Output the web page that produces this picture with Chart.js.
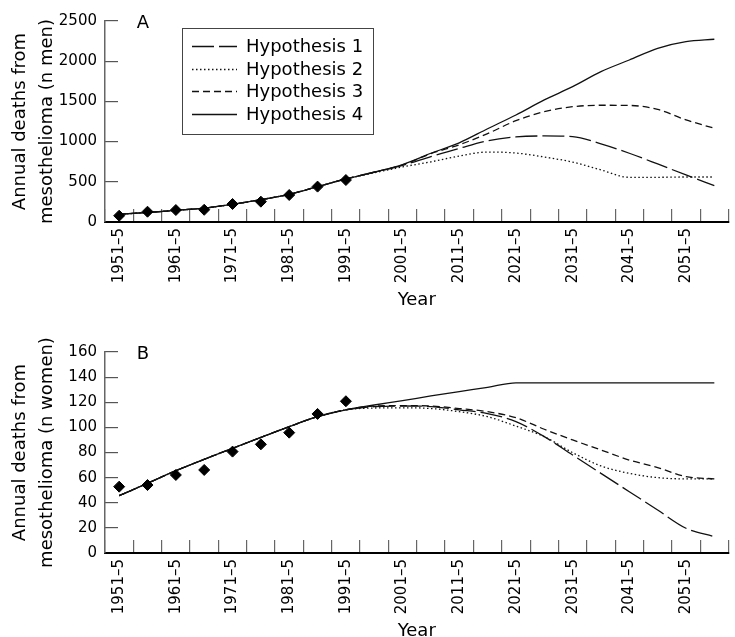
<!DOCTYPE html>
<html>
<head>
<meta charset="utf-8">
<script src="https://cdn.jsdelivr.net/npm/chart.js@4"></script>
<style>
  html, body { margin: 0; padding: 0; background: #fff; overflow: hidden; }
  #wrap { position: relative; width: 735px; height: 637px; overflow: hidden; }
  canvas { position: absolute; left: 0; }
  #chartA { top: 0; }
  #chartB { top: 331px; }
</style>
</head>
<body>
<div id="wrap">
  <canvas id="chartA" width="735" height="331"></canvas>
  <canvas id="chartB" width="735" height="331"></canvas>
</div>
<script>
// five-year periods
const periods = [
  "1951–5", "1956–60", "1961–5", "1966–70", "1971–5", "1976–80",
  "1981–5", "1986–90", "1991–5", "1996–2000", "2001–5", "2006–10",
  "2011–5", "2016–20", "2021–5", "2026–30", "2031–5", "2036–40",
  "2041–5", "2046–50", "2051–5", "2056–60"
];

// men (panel A)
const menObserved = [78, 128, 149, 152, 224, 253, 336, 440, 522];
const menH1 = [96, 118, 145, 172, 220, 278, 345, 440, 535, 618, 705, 813, 916, 1010, 1058, 1070, 1062, 972, 855, 722, 585, 452];
const menH2 = [96, 118, 145, 172, 220, 278, 345, 440, 535, 612, 685, 748, 820, 870, 858, 808, 745, 648, 556, 556, 560, 560];
const menH3 = [96, 118, 145, 172, 220, 278, 345, 440, 535, 620, 710, 850, 960, 1100, 1260, 1372, 1434, 1452, 1450, 1400, 1270, 1166];
const menH4 = [96, 118, 145, 172, 220, 278, 345, 440, 535, 622, 715, 855, 985, 1160, 1331, 1518, 1683, 1870, 2015, 2160, 2243, 2273];
const menTicks = [0, 500, 1000, 1500, 2000, 2500];

// women (panel B)
const womenObserved = [52.8, 54.1, 62.1, 66.1, 80.7, 86.5, 95.8, 110.7, 120.8];
const womenH1 = [45.6, 55.5, 65.5, 74.6, 83.3, 92, 100.6, 108.5, 114, 116.5, 117, 116.5, 114, 111, 104.6, 92.6, 78, 63.4, 48.8, 34.2, 19.7, 13];
const womenH2 = [45.6, 55.5, 65.5, 74.6, 83.3, 92, 100.6, 108.5, 114, 115.4, 115.6, 115, 112.5, 108.5, 101, 92.6, 79.9, 69.3, 63.4, 60, 59, 59];
const womenH3 = [45.6, 55.5, 65.5, 74.6, 83.3, 92, 100.6, 108.5, 114, 117, 117.3, 117, 115, 112.5, 107.7, 98.5, 90, 82, 74, 68, 60.8, 59];
const womenH4 = [45.6, 55.5, 65.5, 74.6, 83.3, 92, 100.6, 108.5, 114, 117.8, 121.3, 125, 128.5, 131.9, 135.5, 135.5, 135.5, 135.5, 135.5, 135.5, 135.5, 135.5];
const womenTicks = [0, 20, 40, 60, 80, 100, 120, 140, 160];

const FONT = "'DejaVu Sans', sans-serif";
const dashes = { h1: [22, 5], h2: [1.5, 2.5], h3: [7, 4], h4: [] };

function lineSet(label, data, dash) {
  return {
    label: label,
    data: data,
    borderColor: "#111",
    borderWidth: 1.3,
    borderDash: dash,
    pointRadius: 0,
    fill: false,
    cubicInterpolationMode: "monotone",
  };
}

function observedSet(data) {
  return {
    label: "Observed",
    data: data,
    showLine: false,
    pointStyle: "rectRot",
    pointRadius: 5.5,
    backgroundColor: "#000",
    borderColor: "#000",
    borderWidth: 1,
  };
}

// panel letter A / B
const panelLetter = {
  id: "panelLetter",
  afterDraw(chart, args, opts) {
    const ctx = chart.ctx;
    ctx.save();
    ctx.font = "18px " + FONT;
    ctx.fillStyle = "#000";
    ctx.textAlign = "center";
    ctx.textBaseline = "middle";
    ctx.fillText(opts.text, 143, 23);
    ctx.restore();
  },
};

// boxed legend inside panel A
const legendBox = {
  id: "legendBox",
  afterDraw(chart, args, opts) {
    if (!opts.show) return;
    const ctx = chart.ctx;
    ctx.save();
    ctx.strokeStyle = "#444";
    ctx.lineWidth = 1;
    ctx.strokeRect(182.5, 28.5, 191, 106);
    ctx.font = "18px " + FONT;
    ctx.fillStyle = "#000";
    ctx.textBaseline = "middle";
    const hyps = chart.data.datasets.filter((d) => d.label.startsWith("Hyp"));
    hyps.forEach((d, i) => {
      const y = Math.round(46 + i * 22.5) + 0.5;
      ctx.strokeStyle = "#111";
      ctx.lineWidth = 1.3;
      ctx.setLineDash(d.borderDash);
      ctx.beginPath();
      ctx.moveTo(192, y);
      ctx.lineTo(237, y);
      ctx.stroke();
      ctx.setLineDash([]);
      ctx.fillText(d.label, 246, y + 1);
    });
    ctx.restore();
  },
};

function makeChart(id, letter, observed, h1, h2, h3, h4, yTicks, yTitle, showLegend) {
  const yMax = yTicks[yTicks.length - 1];
  return new Chart(document.getElementById(id), {
    type: "line",
    data: {
      labels: periods,
      datasets: [
        observedSet(observed),
        lineSet("Hypothesis 1", h1, dashes.h1),
        lineSet("Hypothesis 2", h2, dashes.h2),
        lineSet("Hypothesis 3", h3, dashes.h3),
        lineSet("Hypothesis 4", h4, dashes.h4),
      ],
    },
    options: {
      responsive: false,
      animation: false,
      devicePixelRatio: 1,
      layout: { padding: { top: 21, left: 0, right: 0, bottom: 0 } },
      plugins: {
        legend: { display: false },
        tooltip: { enabled: false },
        panelLetter: { text: letter },
        legendBox: { show: showLegend },
      },
      scales: {
        x: {
          offset: true,
          grid: {
            offset: true,
            drawOnChartArea: false,
            drawTicks: true,
            tickLength: -13,
            color: "#666",
            lineWidth: 1.2,
          },
          border: { color: "#000", width: 2 },
          ticks: {
            autoSkip: false,
            minRotation: 90,
            maxRotation: 90,
            padding: 19,
            color: "#000",
            font: { family: FONT, size: 15 },
            callback: function (value, index) {
              return index % 2 === 0 ? this.getLabelForValue(value) : "";
            },
          },
          title: {
            display: true,
            text: "Year",
            color: "#000",
            font: { family: FONT, size: 18 },
            padding: { top: 0, bottom: 20 },
          },
          afterFit: (s) => {
            s.height = 109;
            s.paddingLeft = 0;
            s.paddingRight = 0;
          },
        },
        y: {
          min: 0,
          max: yMax,
          afterBuildTicks: (s) => {
            s.ticks = yTicks.map((v) => ({ value: v }));
          },
          grid: {
            drawOnChartArea: false,
            drawTicks: true,
            tickLength: -13,
            color: "#555",
            lineWidth: 1.2,
          },
          border: { color: "#666", width: 1.5 },
          ticks: {
            padding: 21,
            color: "#000",
            font: { family: FONT, size: 15 },
            callback: (v) => String(v),
          },
          title: {
            display: true,
            text: yTitle,
            color: "#000",
            font: { family: FONT, size: 18, lineHeight: 1.5 },
            padding: { top: 7, bottom: 0 },
          },
          afterFit: (s) => {
            s.width = 105;
            s.paddingTop = 0;
            s.paddingBottom = 0;
          },
        },
      },
    },
    plugins: [panelLetter, legendBox],
  });
}

makeChart("chartA", "A", menObserved, menH1, menH2, menH3, menH4, menTicks,
  ["Annual deaths from", "mesothelioma (n men)"], true);
makeChart("chartB", "B", womenObserved, womenH1, womenH2, womenH3, womenH4, womenTicks,
  ["Annual deaths from", "mesothelioma (n women)"], false);
</script>
</body>
</html>
